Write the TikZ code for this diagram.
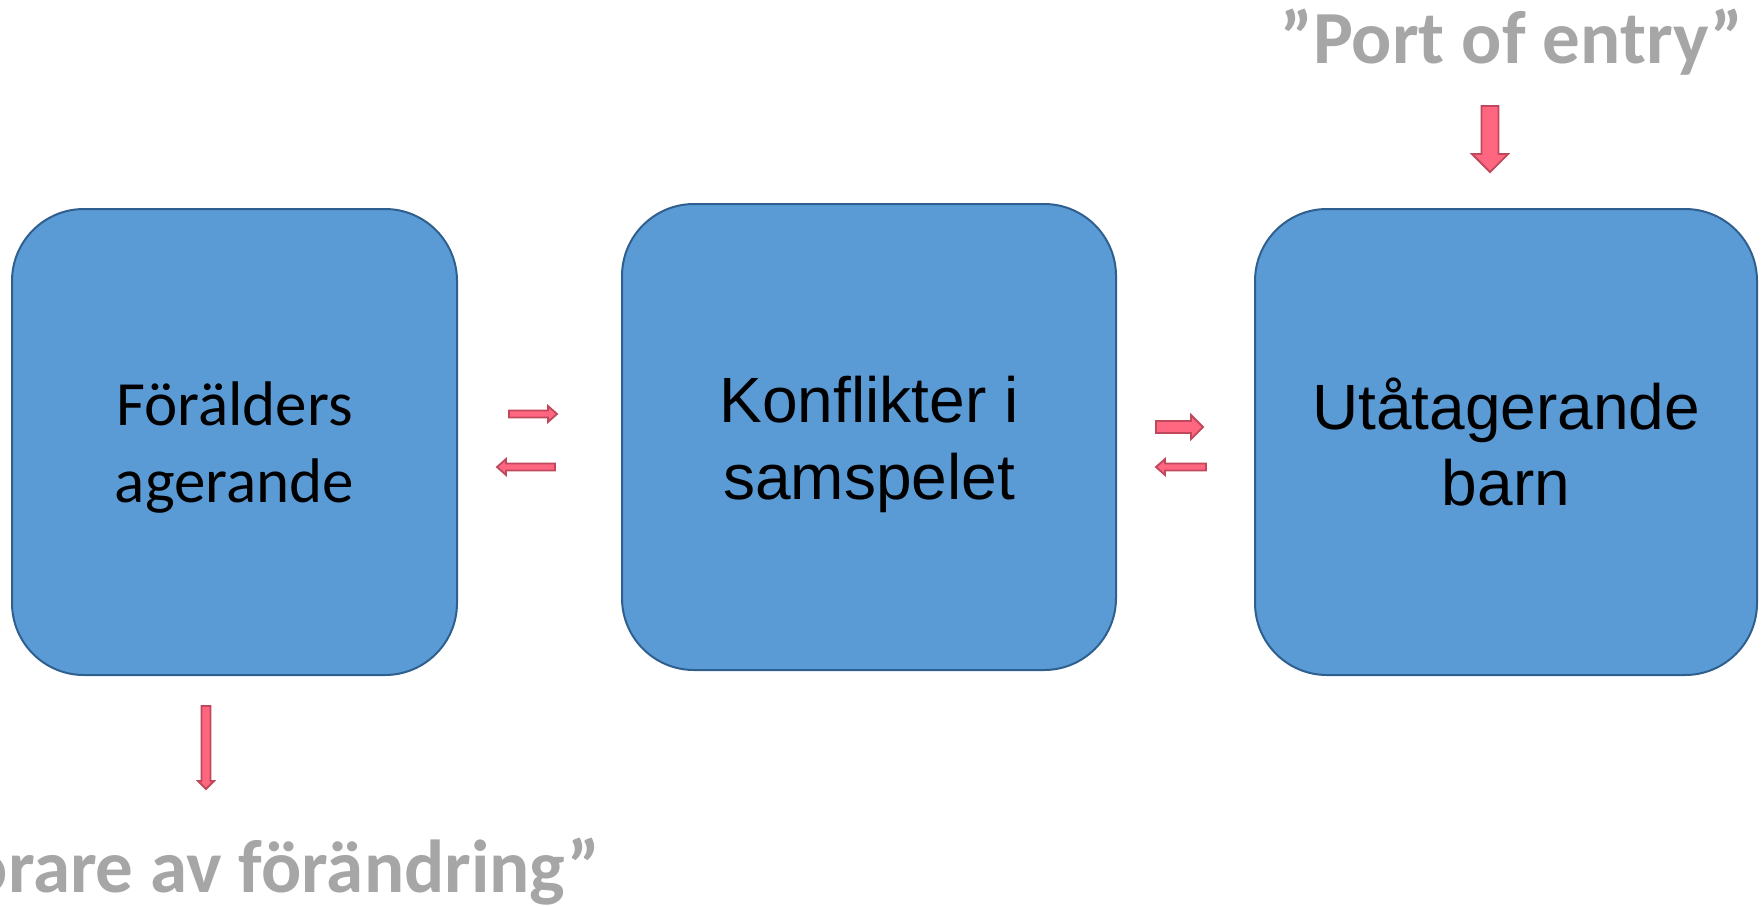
\documentclass[tikz,border=0pt]{standalone}
\usepackage{fontspec}
\setmainfont{Liberation Sans}
\newfontfamily\calibri{Carlito}
\definecolor{boxfill}{HTML}{5B9BD5}
\definecolor{boxline}{HTML}{2F5F8F}
\definecolor{arrfill}{RGB}{255,102,128}
\definecolor{arrline}{RGB}{192,72,92}
\definecolor{labgray}{HTML}{A6A6A6}
\begin{document}
\begin{tikzpicture}[x=0.5pt,y=-0.5pt,
  boxnode/.style={draw=boxline, line width=1pt, fill=boxfill, rounded corners=36pt, inner sep=0pt},
  boxtext/.style={inner sep=0pt, align=center, text=black},
  blockarr/.style={draw=arrline, line width=0.9pt, fill=arrfill, line join=miter},
  lab/.style={font=\calibri\bfseries\fontsize{37.5}{45}\selectfont, text=labgray, inner sep=0pt}]
\useasboundingbox (0,0) rectangle (1764,906);
% boxes
\node[boxnode, minimum width=222.5pt, minimum height=233pt] (b1) at (234.5,442) {};
\node[boxnode, minimum width=247pt, minimum height=233pt] (b2) at (869,437) {};
\node[boxnode, minimum width=251pt, minimum height=233pt] (b3) at (1506,442) {};
\node[boxtext, font=\calibri\fontsize{31.5}{38.5}\selectfont, yshift=-3pt] (t1) at (b1.center) {Förälders\\agerande};
\node[boxtext, font=\fontsize{32}{38.5}\selectfont, yshift=-3.5pt] (t2) at (b2.center) {Konflikter i\\samspelet};
\node[boxtext, font=\fontsize{32}{38}\selectfont] (t3) at (b3.center) {Utåtagerande\\barn};
% labels
\node[lab, anchor=base] (port) at (1512,63) {”Port of entry”};
\node[lab, anchor=base east] (change) at (601,892) {örare av förändring”};
% block arrows
\draw[blockarr] (509,410.5) -- (548,410.5) -- (548,406) -- (557,414) -- (548,422) -- (548,417.5) -- (509,417.5) -- cycle;
\draw[blockarr] (555,463.5) -- (506,463.5) -- (506,459) -- (497,467) -- (506,475) -- (506,470.5) -- (555,470.5) -- cycle;
\draw[blockarr] (1156,421) -- (1191,421) -- (1191,415) -- (1203,427) -- (1191,439) -- (1191,433) -- (1156,433) -- cycle;
\draw[blockarr] (1206,463.5) -- (1165,463.5) -- (1165,459) -- (1156,467) -- (1165,475) -- (1165,470.5) -- (1206,470.5) -- cycle;
\draw[blockarr] (1481.5,106) -- (1498.5,106) -- (1498.5,154) -- (1508,154) -- (1490,172) -- (1472,154) -- (1481.5,154) -- cycle;
\draw[blockarr] (201.5,706) -- (210.5,706) -- (210.5,781) -- (214,781) -- (206,789) -- (198,781) -- (201.5,781) -- cycle;
\end{tikzpicture}
\end{document}
